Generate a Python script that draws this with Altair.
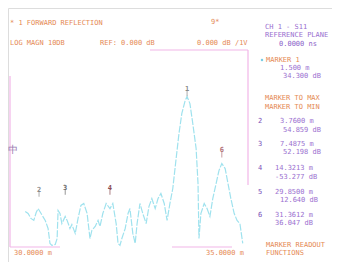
import altair as alt
import pandas as pd

# ---- trace data (distance in m, log magnitude in dB) ----
dist = [30.32, 30.38, 30.44, 30.50, 30.55, 30.59, 30.74, 30.80, 30.84, 30.88,
        30.95, 30.99, 31.01, 31.05, 31.09, 31.16, 31.20, 31.26, 31.30, 31.37,
        31.43, 31.49, 31.55, 31.62, 31.68, 31.72, 31.79, 31.85, 31.89, 31.95,
        32.02, 32.10, 32.16, 32.23, 32.27, 32.31, 32.35, 32.42, 32.48, 32.52,
        32.58, 32.63, 32.67, 32.73, 32.79, 32.86, 32.92, 32.98, 33.05, 33.11,
        33.17, 33.24, 33.30, 33.36, 33.42, 33.49, 33.55, 33.61, 33.68, 33.72,
        33.78, 33.84, 33.91, 33.95, 33.97, 34.01, 34.08, 34.14, 34.20, 34.26,
        34.33, 34.39, 34.45, 34.52, 34.58, 34.64, 34.71, 34.77, 34.83, 34.89]
mag = [-32.0, -33.0, -35.5, -36.5, -32.5, -30.5, -36.5, -40.6, -48.2, -49.2,
       -48.7, -45.7, -31.5, -33.0, -38.1, -34.5, -36.5, -40.6, -38.6, -43.1,
       -35.5, -28.9, -27.9, -33.0, -45.7, -41.6, -39.6, -36.5, -39.6, -33.0,
       -27.9, -30.5, -27.9, -38.1, -48.2, -49.2, -45.7, -40.6, -33.0, -30.5,
       -43.1, -48.2, -38.1, -27.9, -33.0, -38.1, -29.4, -25.4, -30.5, -25.4,
       -22.8, -27.9, -36.5, -27.9, -20.3, -5.1, 7.6, 17.8, 24.4, 26.4,
       22.8, 12.7, 0.0, -17.8, -45.7, -33.0, -27.9, -30.5, -34.5, -25.4,
       -17.8, -11.2, -7.6, -10.2, -17.8, -25.4, -33.0, -36.5, -38.1, -48.2]

# markers on the trace
marker_ids = ["1", "2", "3", "4", "6"]
marker_dist = [33.72, 30.61, 31.16, 32.10, 34.45]
marker_mag = [28.0, -23.0, -22.0, -22.0, -3.0]
marker_cols = ["#8a8a8a", "#8a8a8a", "#6a6a6a", "#8a4a50", "#b07078"]

# ---- text content ----
texts = [
    ("* 1 FORWARD REFLECTION", "#e58a55"),
    ("9*", "#e58a55"),
    ("LOG MAGN 10DB", "#e58a55"),
    ("REF: 0.000 dB", "#e58a55"),
    ("0.000 dB /1V", "#e58a55"),
    ("CH 1 - S11", "#9a6fd0"),
    ("REFERENCE PLANE", "#9a6fd0"),
    ("0.0000 ns", "#8a5fc8"),
    ("MARKER 1", "#e58a55"),
    ("1.500 m", "#9a6fd0"),
    ("34.300 dB", "#9a6fd0"),
    ("MARKER TO MAX", "#e58a55"),
    ("MARKER TO MIN", "#e58a55"),
    ("2", "#7a4fb8"), ("3.7600 m", "#9a6fd0"), ("54.859 dB", "#9a6fd0"),
    ("3", "#7a4fb8"), ("7.4875 m", "#9a6fd0"), ("52.198 dB", "#9a6fd0"),
    ("4", "#7a4fb8"), ("14.3213 m", "#9a6fd0"), ("-53.277 dB", "#9a6fd0"),
    ("5", "#7a4fb8"), ("29.8500 m", "#9a6fd0"), ("12.640 dB", "#9a6fd0"),
    ("6", "#7a4fb8"), ("31.3612 m", "#9a6fd0"), ("36.047 dB", "#9a6fd0"),
    ("MARKER READOUT", "#e58a55"),
    ("FUNCTIONS", "#e58a55"),
    ("30.0000  m", "#e58a55"),
    ("35.0000  m", "#e58a55"),
    ("中", "#9a7ab0"),
]
# layout (page pixel positions of each text, left/middle anchored) and font sizes
text_pos = [
    (10, 23), (211, 22), (10, 43), (100, 43), (197, 43),
    (265, 27), (265, 35), (279, 44),
    (266, 60), (280, 68), (283, 76),
    (265, 98), (265, 107),
    (258, 121), (280, 121), (283, 130),
    (258, 144), (280, 144), (283, 152),
    (258, 168), (275, 168), (275, 177),
    (258, 192), (275, 192), (280, 200),
    (258, 215), (275, 215), (275, 223),
    (266, 245), (266, 253),
    (14, 253), (206, 253),
    (8, 150),
]
text_size = [7] * 32 + [10]
OFF = 8
tdf = pd.DataFrame({
    "t": [t for t, _ in texts],
    "c": [c for _, c in texts],
    "s": text_size,
    "px": [p[0] - OFF for p in text_pos],
    "py": [p[1] - OFF for p in text_pos],
})

# frame segments (page pixels)
frame = [
    (150, 50, 248, 50), (248, 50, 248, 185), (10, 76, 10, 247),
    (10, 247, 60, 247), (172, 247, 232, 247),
]
fdf = pd.DataFrame({
    "x": [f[0] - OFF for f in frame], "y": [f[1] - OFF for f in frame],
    "x2": [f[2] - OFF for f in frame], "y2": [f[3] - OFF for f in frame],
})

xs = alt.Scale(domain=[30, 35], range=[10 - OFF, 248 - OFF])
ys = alt.Scale(domain=[-50, 50], range=[247 - OFF, 50 - OFF])

trace_df = pd.DataFrame({"d": dist, "m": mag})
trace = alt.Chart(trace_df).mark_line(
    color="#9fe2ee", strokeWidth=1.2, strokeDash=[7, 1.5]
).encode(
    x=alt.X("d:Q", scale=xs, axis=None),
    y=alt.Y("m:Q", scale=ys, axis=None),
)

mdf = pd.DataFrame({"id": marker_ids, "d": marker_dist, "m": marker_mag, "c": marker_cols})
mark_tick = alt.Chart(mdf).mark_text(font="DejaVu Sans Mono", fontSize=7, fontWeight="bold", dy=-4).encode(
    x=alt.X("d:Q", scale=xs, axis=None),
    y=alt.Y("m:Q", scale=ys, axis=None),
    text="id:N",
    color=alt.Color("c:N", scale=None),
)
mark_line = alt.Chart(mdf).mark_tick(orient="vertical", size=6, thickness=1).encode(
    x=alt.X("d:Q", scale=xs, axis=None),
    y=alt.Y("m:Q", scale=ys, axis=None),
    color=alt.Color("c:N", scale=None),
)

frame_layer = alt.Chart(fdf).mark_rule(color="#f2b6e8", strokeWidth=1.2).encode(
    x=alt.X("x:Q", scale=None), y=alt.Y("y:Q", scale=None),
    x2="x2:Q", y2="y2:Q",
)

text_layer = alt.Chart(tdf).mark_text(
    font="DejaVu Sans Mono", align="left", baseline="middle"
).encode(
    x=alt.X("px:Q", scale=None), y=alt.Y("py:Q", scale=None),
    text="t:N", color=alt.Color("c:N", scale=None),
    size=alt.Size("s:Q", scale=None),
)

dot = alt.Chart(pd.DataFrame({"a": [0]})).mark_point(
    filled=True, color="#40b8d8", size=6
).encode(x=alt.value(262 - OFF), y=alt.value(60 - OFF))

chart = alt.layer(frame_layer, trace, mark_line, mark_tick, text_layer, dot).properties(
    width=324, height=254, padding=0,
    autosize=alt.AutoSizeParams(type="none"),
).configure_view(stroke=None).configure(background="white")

chart.save("out.html", embed_options={"renderer": "svg", "actions": False})
